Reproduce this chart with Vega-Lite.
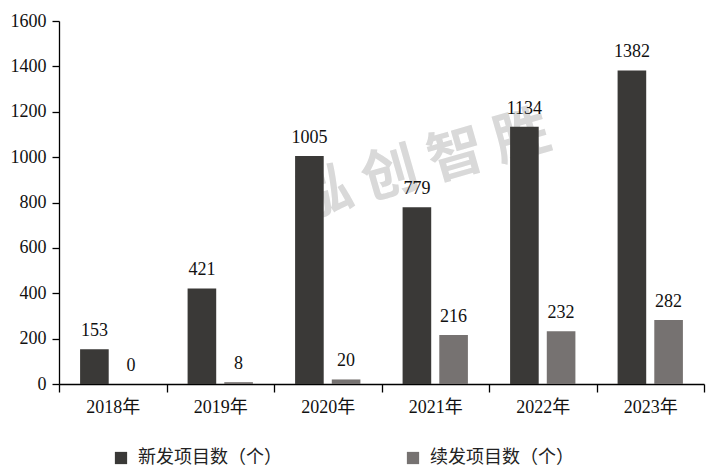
{
  "$schema": "https://vega.github.io/schema/vega-lite/v6.json",
  "width": 645,
  "height": 363,
  "autosize": "none",
  "padding": {"left": 59, "top": 21, "right": 5, "bottom": 90},
  "background": "white",
  "config": {
    "view": {"stroke": null},
    "font": "Liberation Serif, Noto Sans CJK SC",
    "axis": {"grid": false, "domainColor": "#000000", "tickColor": "#000000", "labelColor": "#111111", "labelFont": "Liberation Serif, Noto Sans CJK SC", "labelFontSize": 18, "domainWidth": 1.3, "tickWidth": 1.3}
  },
  "data": {
    "values": [
      {"year": "2018年", "series": "新发项目数（个）", "value": 153},
      {"year": "2018年", "series": "续发项目数（个）", "value": 0},
      {"year": "2019年", "series": "新发项目数（个）", "value": 421},
      {"year": "2019年", "series": "续发项目数（个）", "value": 8},
      {"year": "2020年", "series": "新发项目数（个）", "value": 1005},
      {"year": "2020年", "series": "续发项目数（个）", "value": 20},
      {"year": "2021年", "series": "新发项目数（个）", "value": 779},
      {"year": "2021年", "series": "续发项目数（个）", "value": 216},
      {"year": "2022年", "series": "新发项目数（个）", "value": 1134},
      {"year": "2022年", "series": "续发项目数（个）", "value": 232},
      {"year": "2023年", "series": "新发项目数（个）", "value": 1382},
      {"year": "2023年", "series": "续发项目数（个）", "value": 282}
    ]
  },
  "encoding": {
    "x": {
      "field": "year", "type": "nominal", "title": null, "sort": null,
      "scale": {"domain": ["2018年", "2019年", "2020年", "2021年", "2022年", "2023年"], "paddingInner": 0, "paddingOuter": 0},
      "axis": {"labelAngle": 0, "tickSize": 8, "labelPadding": 6, "tickBand": "extent"}
    },
    "y": {
      "field": "value", "type": "quantitative", "title": null,
      "scale": {"domain": [0, 1600], "nice": false},
      "axis": {"values": [0, 200, 400, 600, 800, 1000, 1200, 1400, 1600], "format": "d", "tickSize": 7, "labelPadding": 6}
    }
  },
  "layer": [
    {
      "data": {"values": [{"year": "2021年", "value": 960, "t": "泓  创  智  胜"}]},
      "mark": {"type": "text", "font": "Noto Sans CJK SC", "fontWeight": "bold", "fontSize": 56, "color": "#d9d9d9", "angle": 344, "align": "center", "baseline": "middle", "xOffset": -12},
      "encoding": {
        "text": {"field": "t", "type": "nominal"}
      }
    },
    {
      "mark": {"type": "bar"},
      "encoding": {
        "xOffset": {"field": "series", "type": "nominal", "sort": null, "scale": {"paddingInner": 0.22, "paddingOuter": 0.575}},
        "color": {
          "field": "series", "type": "nominal", "sort": null,
          "scale": {"range": ["#3a3937", "#767271"]},
          "legend": {
            "title": null, "orient": "none", "direction": "horizontal",
            "legendX": 53, "legendY": 428,
            "symbolType": "square", "symbolSize": 150, "symbolStrokeWidth": 0,
            "labelFontSize": 18, "labelFont": "Noto Sans CJK SC", "labelColor": "#222222",
            "labelOffset": 8, "columnPadding": 122, "labelLimit": 300
          }
        }
      }
    },
    {
      "mark": {"type": "text", "baseline": "bottom", "dy": -9, "fontSize": 18, "color": "#111111", "font": "Liberation Serif"},
      "encoding": {
        "xOffset": {"field": "series", "type": "nominal", "sort": null},
        "text": {"field": "value", "type": "quantitative"}
      }
    }
  ]
}
